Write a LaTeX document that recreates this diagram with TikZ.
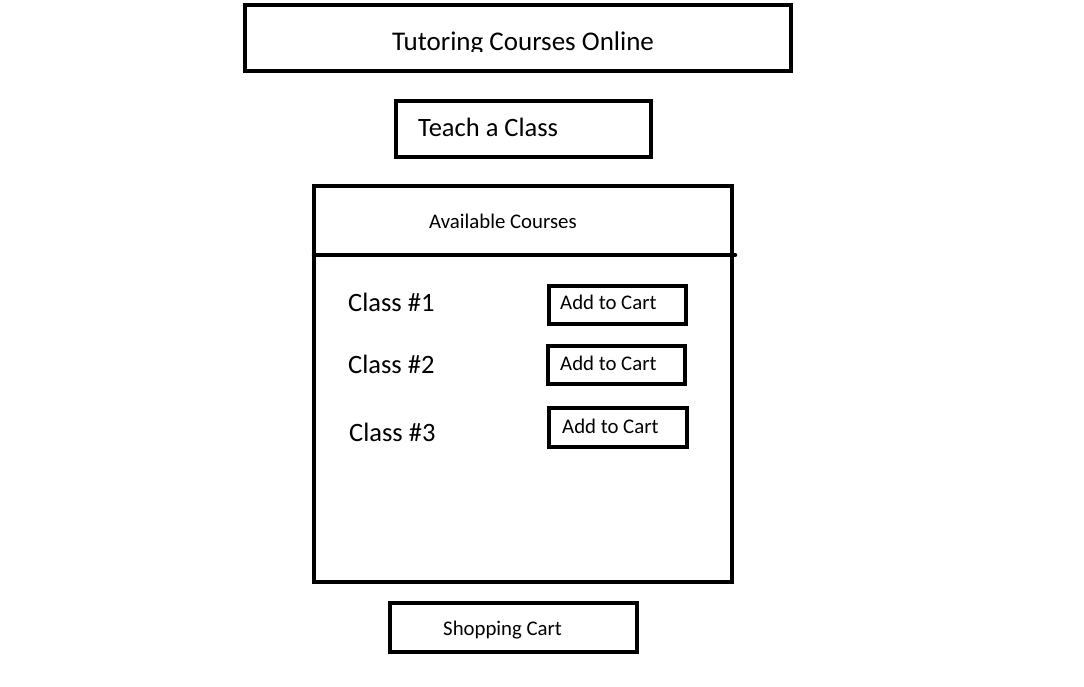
\documentclass[tikz,border=0pt]{standalone}
\usepackage{fontspec}
\setmainfont{Carlito}
\begin{document}
\begin{tikzpicture}[x=1pt,y=-1pt,
  frame/.style={draw=black,line width=4.5pt,inner sep=0pt,outer sep=0pt},
  bigtxt/.style={inner sep=0pt,anchor=base west,font=\fontsize{26.5}{30}\selectfont},
  smalltxt/.style={inner sep=0pt,anchor=base west,font=\fontsize{20.8}{24}\selectfont}]
\useasboundingbox[fill=white] (0,0) rectangle (1084,686);

% frames
\node[frame,minimum width=546pt,minimum height=66pt] (titlebox) at (518,38) {};
\node[frame,minimum width=255pt,minimum height=56pt] (teachbox) at (523.5,129) {};
\node[frame,minimum width=418pt,minimum height=396pt] (coursebox) at (523,384) {};
\node[frame,minimum width=137pt,minimum height=38pt] (cart1) at (617.5,305) {};
\node[frame,minimum width=137pt,minimum height=38pt] (cart2) at (616.5,365) {};
\node[frame,minimum width=138pt,minimum height=39pt] (cart3) at (618,427.5) {};
\node[frame,minimum width=247pt,minimum height=49pt] (shopbox) at (513.5,627.5) {};

% header divider of the course list
\coordinate (divL) at (314,255);
\coordinate (divR) at (735,255);
\draw[line width=4.5pt,line cap=round] (divL) -- (divR);

% title, cut off just below its baseline
\begin{scope}
  \clip (247,7) rectangle (789,51);
  \node[bigtxt,font=\fontsize{27}{30}\selectfont] (title) at (392,50) {Tutoring Courses Online};
\end{scope}

\node[bigtxt] (teach) at (418,136) {Teach a Class};
\node[smalltxt] (avail) at (429,228) {Available Courses};
\node[bigtxt] (class1) at (348,311) {Class \#1};
\node[bigtxt] (class2) at (348,373) {Class \#2};
\node[bigtxt] (class3) at (349,441) {Class \#3};
\node[smalltxt] (add1) at (560,309) {Add to Cart};
\node[smalltxt] (add2) at (560,370) {Add to Cart};
\node[smalltxt] (add3) at (562,433) {Add to Cart};
\node[smalltxt] (shop) at (443,635) {Shopping Cart};
\end{tikzpicture}
\end{document}
